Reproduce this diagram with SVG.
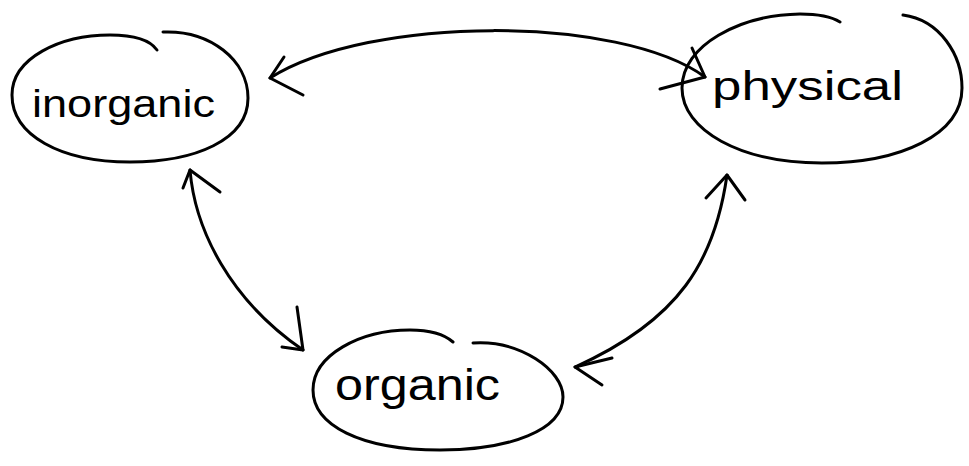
<svg xmlns="http://www.w3.org/2000/svg" width="969" height="466" viewBox="0 0 969 466">
<style>
.ink{fill:none;stroke:#000;stroke-width:3;stroke-linecap:round;stroke-linejoin:round}
.lbl{font-family:"Liberation Sans","DejaVu Sans",sans-serif;fill:#000}
</style>
<rect width="969" height="466" fill="#fff"/>
<g id="inorganic">
<path class="ink" d="M163,32 C210,30 248,60 248,98 C248,140 195,162 130,162 C60,162 12,135 12,95 C12,58 60,35 110,35 C135,35 150,40 157,50"/>
<text class="lbl" x="32" y="117" font-size="38" textLength="183" lengthAdjust="spacingAndGlyphs">inorganic</text>
</g>
<g id="physical">
<path class="ink" d="M903,15 C940,20 962,55 962,88 C962,135 900,163 822,163 C740,163 682,130 682,88 C682,45 740,15 800,14 C820,14 832,17 840,22"/>
<text class="lbl" x="712" y="100" font-size="40" textLength="191" lengthAdjust="spacingAndGlyphs">physical</text>
</g>
<g id="organic">
<path class="ink" d="M473,343 C520,340 563,370 563,397 C563,430 510,450 440,450 C360,450 313,425 313,390 C313,355 360,330 410,330 C430,330 445,335 453,342"/>
<text class="lbl" x="335" y="400" font-size="44" textLength="165" lengthAdjust="spacingAndGlyphs">organic</text>
</g>
<g id="connectors">
<path class="ink" d="M270,78 C370,15 620,15 705,77"/>
<path class="ink" d="M284,57 L270,78 L303,95"/>
<path class="ink" d="M692,48 L705,77 L660,89"/>
<path class="ink" d="M190,170 C195,230 230,300 303,350"/>
<path class="ink" d="M183,188 L190,170 L220,192"/>
<path class="ink" d="M297,307 L303,350 L282,347"/>
<path class="ink" d="M727,175 C715,260 680,320 575,367"/>
<path class="ink" d="M706,198 L727,175 L745,200"/>
<path class="ink" d="M612,358 L575,367 L602,385"/>
</g>
</svg>
